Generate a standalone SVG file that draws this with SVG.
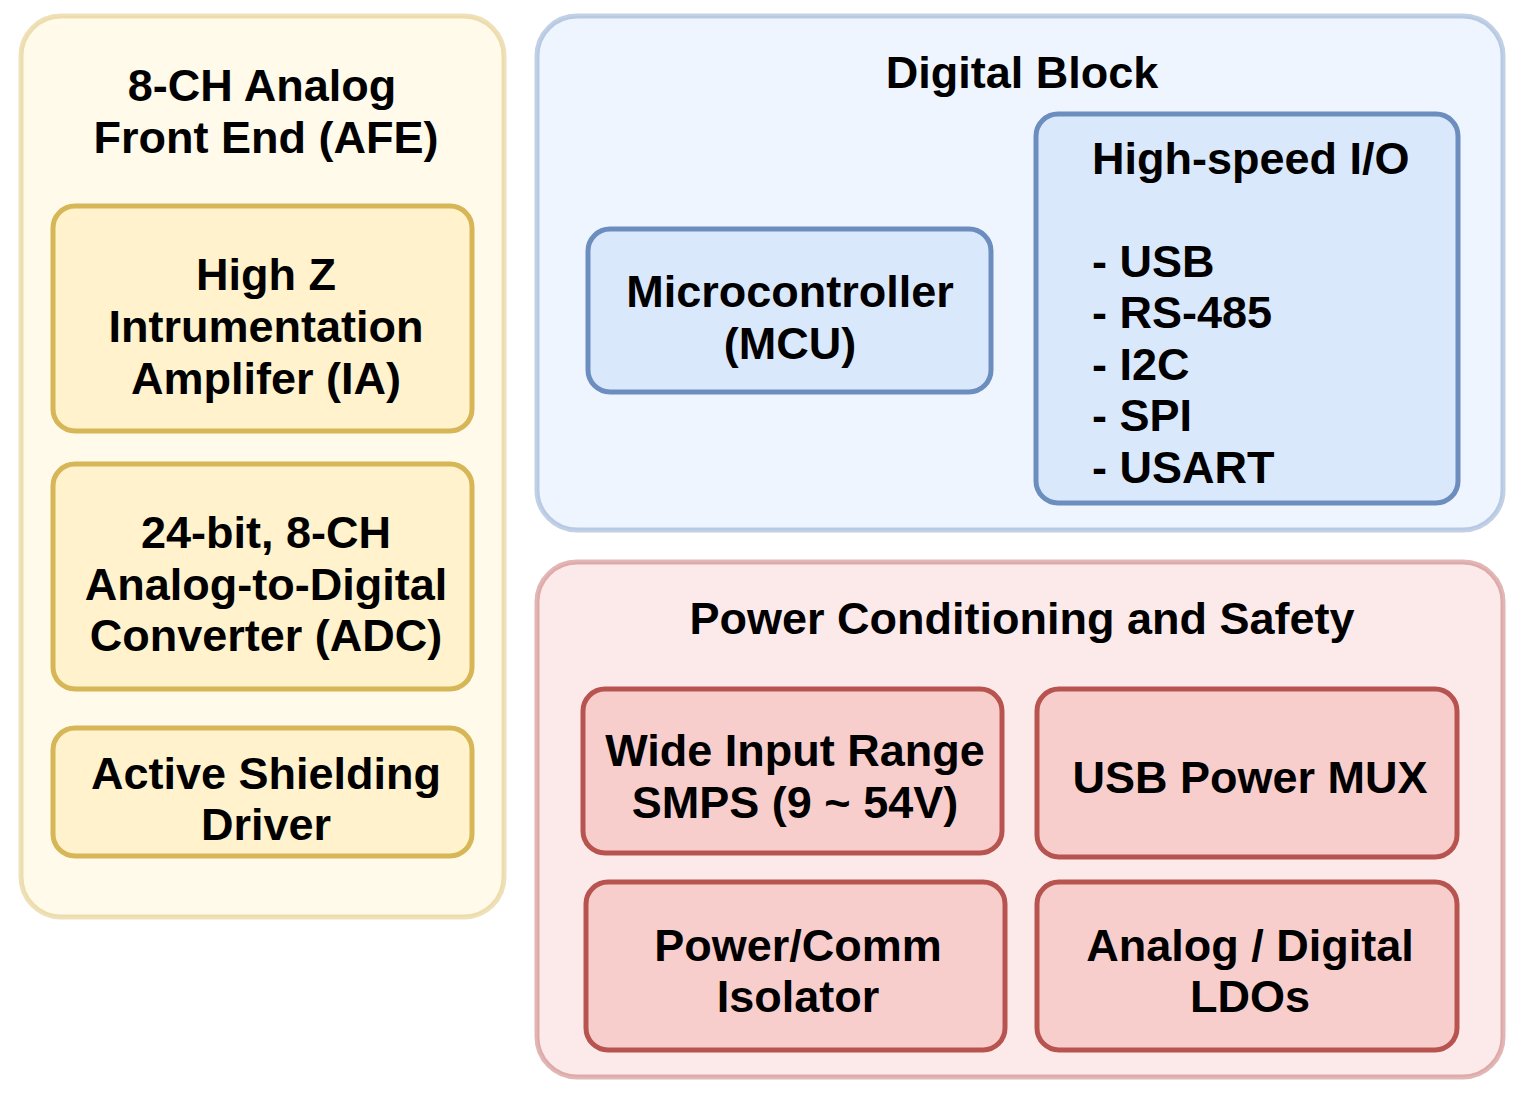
<svg xmlns="http://www.w3.org/2000/svg" width="1523" height="1097" viewBox="0 0 1523 1097">
<style>
text{font-family:"Liberation Sans",Arial,Helvetica,sans-serif;font-weight:bold;font-size:45px;fill:#000}
.c{text-anchor:middle}
.y{fill:#fff2cc;stroke:#d6b656}
.b{fill:#dae8fc;stroke:#6c8ebf}
.r{fill:#f8cecc;stroke:#b85450}
.outer{fill-opacity:0.42;stroke-opacity:0.42;stroke-width:5}
.inner{stroke-width:5}
</style>
<rect width="1523" height="1097" fill="#fff"/>
<g id="afe">
<rect class="y outer" x="21" y="16" width="483" height="901" rx="40"/>
<text class="c" x="262" y="101">8-CH Analog</text>
<text class="c" x="266" y="153">Front End (AFE)</text>
</g>
<g id="ia">
<rect class="y inner" x="53" y="206" width="419" height="225" rx="22"/>
<text class="c" x="266" y="290">High Z</text>
<text class="c" x="266" y="342">Intrumentation</text>
<text class="c" x="266" y="394">Amplifer (IA)</text>
</g>
<g id="adc">
<rect class="y inner" x="53" y="464" width="419" height="225" rx="22"/>
<text class="c" x="266" y="548">24-bit, 8-CH</text>
<text class="c" x="266" y="600">Analog-to-Digital</text>
<text class="c" x="266" y="651">Converter (ADC)</text>
</g>
<g id="shield">
<rect class="y inner" x="53" y="728" width="419" height="128" rx="22"/>
<text class="c" x="266" y="789">Active Shielding</text>
<text class="c" x="266" y="840">Driver</text>
</g>
<g id="digital">
<rect class="b outer" x="537" y="16" width="966" height="514" rx="40"/>
<text class="c" x="1022" y="88">Digital Block</text>
</g>
<g id="mcu">
<rect class="b inner" x="588" y="229" width="403" height="163" rx="22"/>
<text class="c" x="790" y="307">Microcontroller</text>
<text class="c" x="790" y="359">(MCU)</text>
</g>
<g id="hsio">
<rect class="b inner" x="1036" y="114" width="422" height="389" rx="22"/>
<text x="1092" y="174">High-speed I/O</text>
<text x="1092" y="277">- USB</text>
<text x="1092" y="328">- RS-485</text>
<text x="1092" y="380">- I2C</text>
<text x="1092" y="431">- SPI</text>
<text x="1092" y="483">- USART</text>
</g>
<g id="power">
<rect class="r outer" x="537" y="562" width="966" height="515" rx="40"/>
<text class="c" x="1022" y="634">Power Conditioning and Safety</text>
</g>
<g id="smps">
<rect class="r inner" x="583" y="689" width="419" height="164" rx="22"/>
<text class="c" x="795" y="766">Wide Input Range</text>
<text class="c" x="795" y="818">SMPS (9 ~ 54V)</text>
</g>
<g id="usbmux">
<rect class="r inner" x="1037" y="689" width="420" height="168" rx="22"/>
<text class="c" x="1250" y="793">USB Power MUX</text>
</g>
<g id="isolator">
<rect class="r inner" x="586" y="882" width="419" height="168" rx="22"/>
<text class="c" x="798" y="961">Power/Comm</text>
<text class="c" x="798" y="1012">Isolator</text>
</g>
<g id="ldo">
<rect class="r inner" x="1037" y="882" width="420" height="168" rx="22"/>
<text class="c" x="1250" y="961">Analog / Digital</text>
<text class="c" x="1250" y="1012">LDOs</text>
</g>
<g id="connectors"></g>
</svg>
